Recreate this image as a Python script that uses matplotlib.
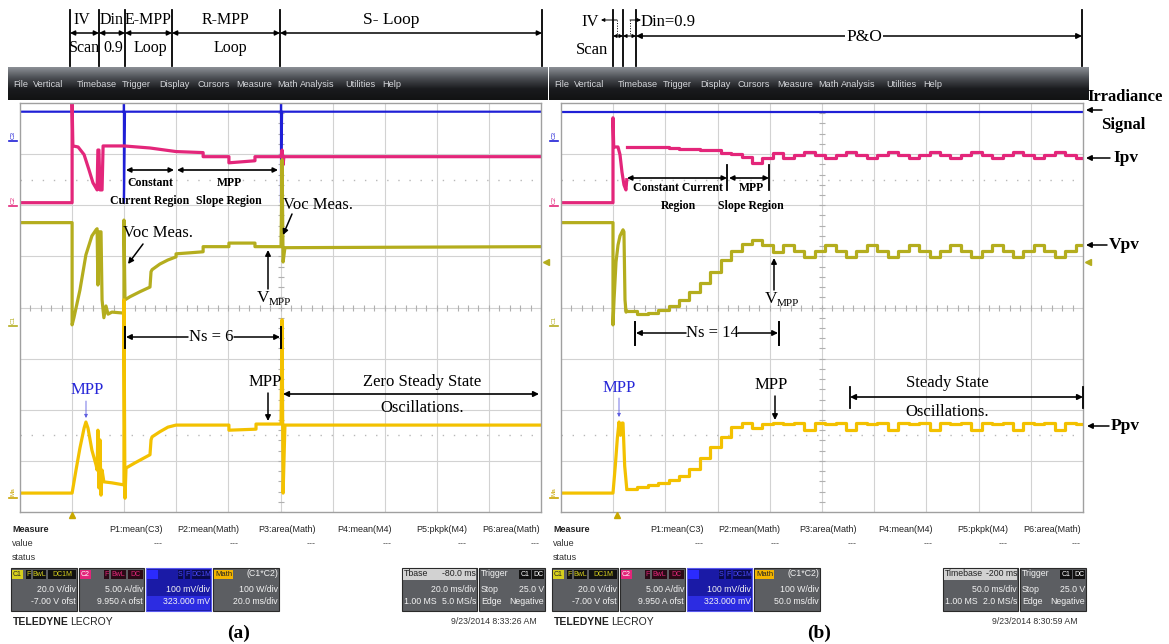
import numpy as np
import matplotlib.pyplot as plt
from matplotlib.patches import Rectangle
from matplotlib.colors import LinearSegmentedColormap

# ---- waveforms read off the two scope captures ----
# time in ms, level in screen divisions (0 = bottom of grid, 8 = top)

# (a) proposed method, 20 ms/div
a_t_irr = [0, 39.9, 39.9, 39.9, 40.3, 100.2, 100.2, 100.2, 100.6, 200]
a_irr = [7.83, 7.83, 8.0, 6.05, 7.83, 7.83, 8.0, 6.05, 7.83, 7.83]

a_t_ipv = [0, 20.0, 20.0, 20.3, 22.3, 24.6, 26.5, 28.0, 29.6, 29.9, 30.3, 30.7, 31.5, 31.9,
           39.9, 49.9, 59.9, 70.3, 70.3, 80.2, 80.2, 90.2, 90.2, 100.2, 100.6, 101.0, 101.3, 200]
a_ipv = [6.05, 6.05, 8.0, 7.16, 7.14, 6.99, 6.69, 6.44, 6.30, 7.08, 7.08, 6.30, 6.30, 7.16,
         7.16, 7.12, 7.05, 7.03, 6.95, 6.95, 6.83, 6.87, 6.95, 6.95, 7.08, 6.79, 6.95, 6.95]

a_t_vpv = [0, 20.0, 20.0, 20.7, 23.0, 25.3, 27.6, 29.2, 29.6, 29.9, 30.3, 31.1, 31.5, 32.2,
           33.0, 33.8, 35.3, 39.9, 39.9, 40.3, 42.2, 46.1, 49.9, 50.3, 50.7, 53.7, 56.8, 59.9,
           59.9, 65.3, 70.3, 70.3, 80.2, 80.2, 90.2, 90.2, 100.2, 100.6, 101.0, 101.7, 200]
a_vpv = [5.66, 5.66, 3.66, 3.80, 4.34, 5.03, 5.40, 5.52, 5.54, 4.44, 5.48, 5.48, 4.15, 3.80,
         4.03, 3.87, 3.91, 3.89, 5.71, 4.15, 4.21, 4.31, 4.40, 4.70, 4.74, 4.85, 4.93, 4.99,
         5.05, 5.07, 5.09, 5.19, 5.19, 5.26, 5.26, 5.19, 5.19, 6.89, 4.89, 5.17, 5.19]

a_t_ppv = [0, 20.0, 21.5, 23.0, 24.6, 25.3, 26.1, 27.6, 29.2, 29.6, 29.9, 30.3, 30.7, 31.1,
           31.5, 32.2, 35.3, 39.9, 39.9, 40.3, 40.7, 44.1, 49.9, 50.3, 50.7, 53.7, 56.8, 59.9,
           80.2, 80.2, 90.6, 90.6, 100.2, 100.6, 101.0, 101.7, 200]
a_ppv = [0.37, 0.37, 0.82, 1.25, 1.64, 1.76, 1.64, 1.21, 0.92, 0.82, 1.60, 0.47, 1.41, 0.33,
         0.82, 0.59, 0.57, 0.53, 4.15, 0.27, 0.86, 0.96, 1.12, 1.41, 1.47, 1.57, 1.66, 1.70,
         1.70, 1.60, 1.62, 1.72, 1.72, 3.76, 0.37, 1.70, 1.70]

# (b) conventional P&O, 50 ms/div
b_t_irr = [0, 500]
b_irr = [7.83, 7.83]

b_t_ipv = [0, 49.8, 49.8, 50.5, 54.6, 56.5, 58.4, 60.3, 62.2, 63.0]
b_ipv = [6.05, 6.05, 7.71, 7.14, 7.14, 6.99, 6.65, 6.40, 6.30, 6.50]
b_t_vpv = [0, 49.8, 49.8, 50.8, 52.7, 54.6, 56.5, 59.4, 60.3, 61.3, 62.3, 63.0]
b_vpv = [5.66, 5.66, 3.66, 4.15, 4.89, 5.22, 5.40, 5.52, 5.48, 4.15, 3.91, 3.93]
b_t_ppv = [0, 49.8, 52.0, 54.0, 55.6, 57.0, 58.5, 59.4, 61.0, 63.0]
b_ppv = [0.37, 0.37, 0.90, 1.45, 1.76, 1.50, 1.74, 1.74, 0.90, 0.45]

# P&O perturbation steps, one every 10 ms from 63 ms on
b_step_t = np.arange(63, 500, 10)
b_step_v = [3.93, 3.87, 3.89, 3.95, 4.03, 4.15, 4.31, 4.48, 4.70, 4.92, 5.10, 5.24, 5.32, 5.22, 5.09,
            5.22, 5.11, 4.99, 5.11, 5.22, 5.11, 4.99, 5.11, 5.23, 5.11, 4.99, 5.11, 5.22, 5.10,
            4.99, 5.11, 5.22, 5.11, 4.99, 5.11, 5.22, 5.11, 4.99, 5.11, 5.22, 5.11, 4.99, 5.11, 5.22]
b_step_i = [7.14, 7.14, 7.13, 7.13, 7.12, 7.11, 7.10, 7.09, 7.08, 7.03, 7.01, 6.95, 6.83, 6.93, 7.03,
            6.93, 6.99, 7.05, 6.99, 6.93, 6.99, 7.05, 6.99, 6.93, 6.99, 7.05, 6.99, 6.93, 6.99,
            7.05, 6.99, 6.93, 6.99, 7.05, 6.99, 6.93, 6.99, 7.05, 6.99, 6.93, 6.99, 7.05, 6.99, 6.93]
b_step_p = [0.45, 0.49, 0.53, 0.57, 0.62, 0.70, 0.84, 1.05, 1.28, 1.47, 1.66, 1.74, 1.64, 1.72, 1.74,
            1.72, 1.75, 1.61, 1.75, 1.72, 1.75, 1.61, 1.75, 1.72, 1.75, 1.61, 1.75, 1.72, 1.75,
            1.61, 1.75, 1.72, 1.75, 1.61, 1.75, 1.72, 1.75, 1.61, 1.75, 1.72, 1.75, 1.61, 1.75, 1.72]

menu_items = ['File', 'Vertical', 'Timebase', 'Trigger', 'Display', 'Cursors', 'Measure',
              'Math', 'Analysis', 'Utilities', 'Help']
menu_x = [13, 33, 77, 122, 159, 197, 236, 277, 300, 345, 382]
meas_items = ['P1:mean(C3)', 'P2:mean(Math)', 'P3:area(Math)', 'P4:mean(M4)', 'P5:pkpk(M4)', 'P6:area(Math)']
meas_x = [163, 239, 316, 392, 467, 540]

BLUE = '#1f1fd6'
PINK = '#e3267a'
OLIVE = '#b4ad1e'
GOLD = '#f3c100'
GRID = '#d2d2d2'
SERIF = 'Liberation Serif'
NARROW = ['Liberation Sans Narrow', 'Liberation Sans', 'DejaVu Sans']
LW = 2.3

W, H = 1169, 644
fig = plt.figure(figsize=(W / 100, H / 100), dpi=100)
fig.patch.set_facecolor('white')


def scope(x0, x1, tmax):
    ax = fig.add_axes([x0 / W, 1 - 512 / H, (x1 - x0) / W, (512 - 103) / H])
    ax.set_xlim(0, tmax)
    ax.set_ylim(0, 8)
    ax.set_xticks([])
    ax.set_yticks([])
    for s in ax.spines.values():
        s.set_color('#a0a0a0')
        s.set_linewidth(1.0)
    dx = tmax / 10
    for i in range(1, 10):
        ax.axvline(i * dx, color=GRID, lw=0.8, zorder=0)
    for j in range(1, 8):
        ax.axhline(j, color=GRID, lw=0.8, zorder=0)
    for yd in (6.5, 1.5):
        ax.axhline(yd, color='#b8b8b8', lw=1.0, ls=(0, (1, 7)), zorder=0)
    xt = np.arange(0, tmax + 1e-9, dx / 5)
    ax.plot(xt, np.full(xt.size, 4), ls='none', marker='|', ms=5, mew=0.8, color='#b0b0b0', zorder=0)
    yt = np.arange(0, 8.01, 0.2)
    ax.plot(np.full(yt.size, tmax / 2), yt, ls='none', marker='_', ms=5, mew=0.8, color='#b0b0b0', zorder=0)
    return ax


axa = scope(20, 541, 200)
axa.plot(a_t_irr, a_irr, color=BLUE, lw=1.6)
axa.plot(a_t_ipv, a_ipv, color=PINK, lw=LW)
axa.plot(a_t_vpv, a_vpv, color=OLIVE, lw=LW)
axa.plot(a_t_ppv, a_ppv, color=GOLD, lw=LW)

axb = scope(561, 1083, 500)
axb.plot(b_t_irr, b_irr, color=BLUE, lw=1.6)
st = list(b_step_t) + [500]
axb.plot(b_t_ipv, b_ipv, color=PINK, lw=LW)
axb.step(st, b_step_i + b_step_i[-1:], where='post', color=PINK, lw=LW)
axb.plot(b_t_vpv, b_vpv, color=OLIVE, lw=LW)
axb.step(st, b_step_v + b_step_v[-1:], where='post', color=OLIVE, lw=LW)
axb.plot(b_t_ppv, b_ppv, color=GOLD, lw=LW)
axb.step(st, b_step_p + b_step_p[-1:], where='post', color=GOLD, lw=LW)

# overlay in pixel coordinates for the scope chrome and the annotations
ov = fig.add_axes([0, 0, 1, 1], zorder=5)
ov.set_xlim(0, W)
ov.set_ylim(H, 0)
ov.axis('off')


def ui(x, y, s, size=6.3, color='#f2f2f2', ha='right', weight='normal', z=4):
    return ov.text(x, y, s, fontsize=size, color=color, ha=ha, va='center', family=NARROW,
                   fontweight=weight, zorder=z)


def serif(x, y, s, size=12, weight='normal', color='k', ha='center', bg=False):
    t = ov.text(x, y, s, fontsize=size, fontweight=weight, color=color, ha=ha, va='center', family=SERIF)
    if bg:
        t.set_bbox(dict(facecolor='white', edgecolor='none', pad=1))


def dbl(x0, x1, y, lw=1.2, ms=8):
    ov.annotate('', xy=(x1, y), xytext=(x0, y),
                arrowprops=dict(arrowstyle='<|-|>', color='k', lw=lw, shrinkA=0, shrinkB=0, mutation_scale=ms))


def arr(x0, y0, x1, y1, color='k', lw=1.1, ms=8):
    ov.annotate('', xy=(x1, y1), xytext=(x0, y0),
                arrowprops=dict(arrowstyle='-|>', color=color, lw=lw, shrinkA=0, shrinkB=0, mutation_scale=ms))


def bar(x, y0, y1, lw=1.3, ls='-'):
    ov.plot([x, x], [y0, y1], color='k', lw=lw, ls=ls)


def rect(x0, y0, x1, y1, face, edge='none', lw=0.8, z=2):
    ov.add_patch(Rectangle((x0, y0), x1 - x0, y1 - y0, facecolor=face, edgecolor=edge, lw=lw, zorder=z))


def tag(x0, x1, face, s, tc, size=5.0):
    rect(x0, 569.5, x1, 578.5, face, z=3)
    ui((x0 + x1) / 2, 574, s, size=size, color=tc, ha='center')


menu_cmap = LinearSegmentedColormap.from_list('menu', ['#8a8e94', '#4a4d52', '#1a1b1e', '#121314'])
grad = np.linspace(0, 1, 40)[:, None]


def chrome(dx, math_div, tb_name, tb_off, tb_div, tb_rate, stamp):
    ov.imshow(grad, extent=(dx + 8, dx + 548, 100, 67), cmap=menu_cmap, aspect='auto', zorder=1)
    for m, mx in zip(menu_items, menu_x):
        ui(dx + mx, 84, m, size=6.6, color='#d4d6da', ha='left')
    # channel markers on the left edge
    for lab, yy, c in [('C3', 135, BLUE), ('C2', 200, PINK), ('C1', 320, OLIVE), ('Ma', 492, '#c9a400')]:
        ov.text(dx + 13, yy, lab, fontsize=4.5, color=c, rotation=90, ha='center', va='center', family=NARROW)
        ov.plot([dx + 9, dx + 17], [yy + 6, yy + 6], color=c, lw=1.2)
    # measurement table
    ui(dx + 12, 529, 'Measure', size=6.5, color='#222222', ha='left', weight='bold')
    ui(dx + 12, 544, 'value', size=6.5, color='#333333', ha='left')
    ui(dx + 12, 558, 'status', size=6.5, color='#333333', ha='left')
    for m, mx in zip(meas_items, meas_x):
        ui(dx + mx, 529, m, size=6.5, color='#222222')
        ui(dx + mx, 544, '---', size=6.5, color='#555555')
    # channel boxes
    rect(dx + 11, 568, dx + 77, 611, '#5c5e62', '#2a2a2a')
    tag(dx + 12, dx + 23, '#d6cf1e', 'C1', '#222222')
    tag(dx + 26, dx + 31, '#111111', 'F', '#d6cf1e')
    tag(dx + 33, dx + 46, '#111111', 'BwL', '#d6cf1e')
    tag(dx + 48, dx + 76, '#111111', 'DC1M', '#d6cf1e')
    ui(dx + 76, 589, '20.0 V/div')
    ui(dx + 76, 602, '-7.00 V ofst')

    rect(dx + 79, 568, dx + 144, 611, '#5c5e62', '#2a2a2a')
    tag(dx + 80, dx + 91, PINK, 'C2', '#ffffff')
    tag(dx + 104, dx + 109, '#2a0a16', 'F', PINK)
    tag(dx + 111, dx + 126, '#2a0a16', 'BwL', PINK)
    tag(dx + 128, dx + 143, '#2a0a16', 'DC', PINK)
    ui(dx + 143, 589, '5.00 A/div')
    ui(dx + 143, 602, '9.950 A ofst')

    rect(dx + 146, 568, dx + 211, 611, '#1a1aa6', '#5a5af0')
    rect(dx + 147, 596, dx + 210, 610, '#2c2ce2', z=2.5)
    tag(dx + 147, dx + 158, '#2b2bff', '', '#ffffff')
    tag(dx + 178, dx + 183, '#0a0a50', 'S', '#4a4aff')
    tag(dx + 185, dx + 190, '#0a0a50', 'F', '#4a4aff')
    tag(dx + 192, dx + 210, '#0a0a50', 'DC1M', '#4a4aff')
    ui(dx + 210, 589, '100 mV/div')
    ui(dx + 210, 602, '323.000 mV')

    rect(dx + 213, 568, dx + 279, 611, '#5c5e62', '#2a2a2a')
    tag(dx + 214, dx + 233, '#f2b400', 'Math', '#222222', size=5.5)
    ui(dx + 278, 574, '(C1*C2)')
    ui(dx + 278, 589, '100 W/div')
    ui(dx + 278, 602, math_div)

    rect(dx + 402, 568, dx + 477, 611, '#5c5e62', '#2a2a2a')
    rect(dx + 403, 569, dx + 476, 580, '#d2d2d2', z=2.5)
    ui(dx + 404, 574, tb_name, color='#222222', ha='left')
    ui(dx + 476, 574, tb_off, color='#222222')
    ui(dx + 476, 589, tb_div)
    ui(dx + 404, 602, '1.00 MS', ha='left')
    ui(dx + 476, 602, tb_rate)

    rect(dx + 479, 568, dx + 545, 611, '#5c5e62', '#2a2a2a')
    ui(dx + 481, 574, 'Trigger', ha='left')
    tag(dx + 519, dx + 531, '#111111', 'C1', '#ffffff')
    tag(dx + 532, dx + 544, '#111111', 'DC', '#ffffff')
    ui(dx + 481, 589, 'Stop', ha='left')
    ui(dx + 544, 589, '25.0 V')
    ui(dx + 481, 602, 'Edge', ha='left')
    ui(dx + 544, 602, 'Negative')

    brand = ui(dx + 13, 622, 'TELEDYNE', size=7.5, color='#222222', ha='left', weight='bold')
    ov.annotate('LECROY', xy=(1, 0.5), xycoords=brand, xytext=(0.8, 0), textcoords='offset points',
                fontsize=7.5, color='#222222', ha='left', va='center', family=NARROW)
    ui(dx + 537, 622, stamp, size=6.3, color='#333333')


chrome(0, '20.0 ms/div', 'Tbase', '-80.0 ms', '20.0 ms/div', '5.0 MS/s', '9/23/2014 8:33:26 AM')
chrome(541, '50.0 ms/div', 'Timebase', '-200 ms', '50.0 ms/div', '2.0 MS/s', '9/23/2014 8:30:59 AM')

# trigger markers
ov.plot([72, 617], [515, 515], ls='none', marker='^', ms=5, color='#c9a800')
ov.plot([546, 1088], [262, 262], ls='none', marker='<', ms=5, color=OLIVE)

# ---- top stage annotations (a) ----
for x in [70, 99, 125, 172, 280, 542]:
    bar(x, 10, 66)
for x0, x1 in [(70, 99), (99, 125), (125, 172), (172, 280), (280, 542)]:
    dbl(x0, x1, 33, lw=1.1, ms=7)
serif(82, 20, 'IV', 11.5)
serif(84, 48, 'Scan', 11.5)
serif(112, 20, 'Din', 11.5)
serif(113, 48, '0.9', 11.5)
serif(148, 20, 'E-MPP', 11.5)
serif(150, 48, 'Loop', 11.5)
serif(225, 20, 'R-MPP', 11.5)
serif(230, 48, 'Loop', 11.5)
serif(391, 20, 'S- Loop', 12.5)

# ---- top stage annotations (b) ----
for x in [613, 623, 636, 1082]:
    bar(x, 10, 66)
dbl(613, 623, 36, lw=0.8, ms=5)
dbl(623, 636, 36, lw=0.8, ms=5)
dbl(636, 1082, 36, lw=1.1, ms=8)
serif(864, 37, 'P&O', 12.5, bg=True)
serif(590, 22, 'IV', 12)
serif(592, 50, 'Scan', 12)
bar(617, 20, 34, lw=0.7, ls=':')
arr(617, 20, 601, 20, lw=0.7, ms=5)
bar(630, 20, 34, lw=0.7, ls=':')
arr(630, 20, 641, 20, lw=0.7, ms=5)
serif(668, 22, 'Din=0.9', 12)

# ---- annotations inside (a) ----
dbl(126, 174, 170, lw=1.2, ms=7)
dbl(177, 278, 170, lw=1.2, ms=7)
serif(150, 183, 'Constant', 8.5, 'bold')
serif(150, 201, 'Current Region', 8.5, 'bold')
serif(229, 183, 'MPP', 8.5, 'bold')
serif(229, 201, 'Slope Region', 8.5, 'bold')
serif(158, 233, 'Voc Meas.', 12)
arr(143, 244, 128, 264)
serif(318, 205, 'Voc Meas.', 12)
arr(292, 214, 283, 235)
arr(268, 289, 268, 250)
serif(263, 298, 'V', 12.5)
serif(280, 302, 'MPP', 8)
bar(125, 327, 348, lw=1.4)
bar(281, 327, 348, lw=1.4)
serif(211, 337, 'Ns = 6', 12)
arr(188, 337, 126, 337)
arr(234, 337, 280, 337)
serif(87, 390, 'MPP', 12, color='#2626d8')
arr(86, 401, 86, 418, color='#5a5ae0', lw=0.6, ms=5)
serif(265, 382, 'MPP', 12)
arr(268, 393, 268, 421)
serif(422, 382, 'Zero Steady State', 12)
serif(422, 408, 'Oscillations.', 12)
dbl(283, 539, 394)

# ---- annotations inside (b) ----
dbl(627, 727, 178, lw=1.2, ms=7)
bar(727, 165, 190)
dbl(729, 769, 178, lw=1.2, ms=7)
bar(769, 165, 190)
serif(678, 188, 'Constant Current', 8.5, 'bold')
serif(678, 206, 'Region', 8.5, 'bold')
serif(751, 188, 'MPP', 8.5, 'bold')
serif(751, 206, 'Slope Region', 8.5, 'bold')
arr(774, 290, 774, 258)
serif(771, 299, 'V', 12.5)
serif(788, 303, 'MPP', 8)
bar(635, 322, 345, lw=1.4)
bar(779, 322, 345, lw=1.4)
serif(712, 333, 'Ns = 14', 12)
arr(686, 333, 636, 333)
arr(738, 333, 778, 333)
serif(619, 388, 'MPP', 12, color='#2626d8')
arr(619, 398, 619, 417, color='#5a5ae0', lw=0.6, ms=5)
serif(771, 385, 'MPP', 12)
arr(775, 396, 775, 420)
serif(947, 383, 'Steady State', 12)
serif(947, 412, 'Oscillations.', 12)
dbl(850, 1083, 397)
bar(850, 387, 408)
bar(1083, 387, 408)

# ---- signal names on the right ----
serif(1125, 97, 'Irradiance', 12, 'bold')
serif(1123, 125, 'Signal', 12, 'bold')
arr(1102, 110, 1086, 110)
arr(1110, 158, 1086, 158)
serif(1113, 158, 'Ipv', 12.5, 'bold', ha='left')
arr(1107, 245, 1086, 245)
serif(1109, 245, 'Vpv', 12.5, 'bold', ha='left')
arr(1109, 426, 1087, 426)
serif(1111, 426, 'Ppv', 12.5, 'bold', ha='left')

serif(239, 633, '(a)', 14, 'bold')
serif(819, 633, '(b)', 14, 'bold')

fig.savefig('out.png', dpi=100)
